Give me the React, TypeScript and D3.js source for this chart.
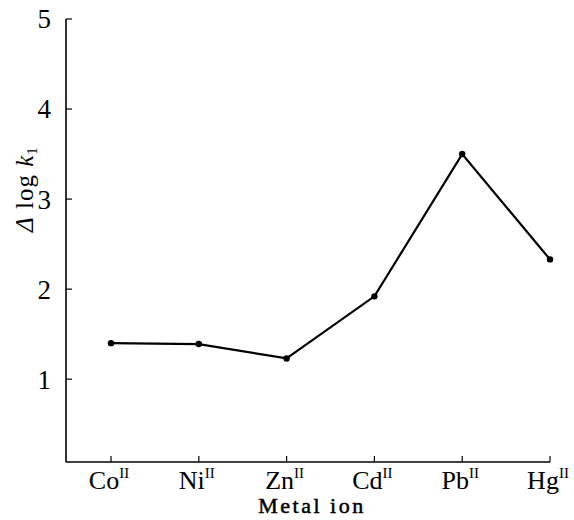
import React from "react";
import * as d3 from "d3";

const ions = ["Co", "Ni", "Zn", "Cd", "Pb", "Hg"];
const oxidation = ["II", "II", "II", "II", "II", "II"];
const deltaLogK1 = [1.4, 1.39, 1.23, 1.92, 3.5, 2.33];
const yTicks = [1, 2, 3, 4, 5];

const W = 574;
const H = 520;

export default function App() {
  const x = d3.scalePoint<string>().domain(ions).range([111, 550]);
  const y = d3.scaleLinear().domain([0.08, 5]).range([462, 19]);
  const line = d3
    .line<number>()
    .x((_, i) => x(ions[i]) as number)
    .y((d) => y(d));
  const axisLeftX = 66;
  const axisBottomY = y(0.08);
  const font = "'Liberation Serif', 'DejaVu Serif', serif";

  return (
    <svg
      width={W}
      height={H}
      style={{ position: "absolute", left: 0, top: 0, background: "#fff" }}
      fontFamily={font}
    >
      {/* axes */}
      <line x1={axisLeftX} x2={axisLeftX} y1={y(5)} y2={axisBottomY} stroke="#000" strokeWidth={1.6} />
      <line x1={axisLeftX} x2={x("Hg") as number} y1={axisBottomY} y2={axisBottomY} stroke="#000" strokeWidth={1.6} />
      {yTicks.map((t) => (
        <g key={t}>
          <line x1={axisLeftX} x2={axisLeftX + 6} y1={y(t)} y2={y(t)} stroke="#000" strokeWidth={1.2} />
          <text x={axisLeftX - 15} y={y(t)} dy="0.35em" textAnchor="end" fontSize={27}>
            {t}
          </text>
        </g>
      ))}
      {ions.map((c, i) => (
        <g key={c}>
          <line x1={x(c)} x2={x(c)} y1={axisBottomY} y2={axisBottomY - 6} stroke="#000" strokeWidth={1.2} />
          <text x={(x(c) as number) - 2} y={489} textAnchor="middle" fontSize={26}>
            {c}
            <tspan fontSize={15} dy={-11}>{oxidation[i]}</tspan>
          </text>
        </g>
      ))}
      {/* line + points */}
      <path d={line(deltaLogK1) || ""} fill="none" stroke="#000" strokeWidth={2.2} />
      {deltaLogK1.map((v, i) => (
        <circle key={i} cx={x(ions[i])} cy={y(v)} r={3.2} fill="#000" />
      ))}
      {/* axis titles */}
      <text
        transform={`translate(33, 189) rotate(-90)`}
        textAnchor="middle"
        fontSize={25}
        letterSpacing={1}
      >
        <tspan fontStyle="italic">Δ</tspan>
        <tspan> log </tspan>
        <tspan fontStyle="italic">k</tspan>
        <tspan fontSize={15} dy={4}>1</tspan>
      </text>
      <text
        x={312}
        y={513}
        textAnchor="middle"
        fontSize={22}
        letterSpacing={2.5}
        stroke="#000"
        strokeWidth={0.5}
      >
        Metal ion
      </text>
    </svg>
  );
}
